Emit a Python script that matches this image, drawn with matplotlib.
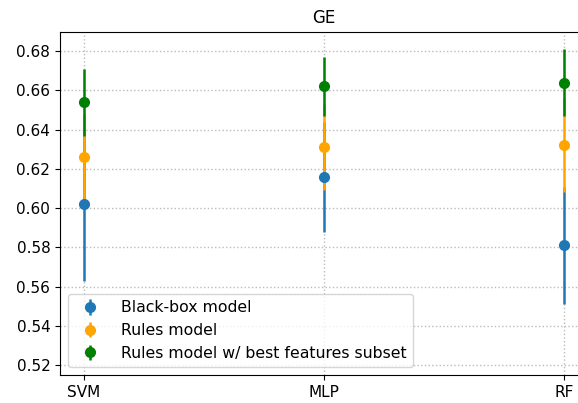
import matplotlib
matplotlib.use("Agg")
import matplotlib.pyplot as plt
import numpy as np

categories = ["SVM", "MLP", "RF"]
blackbox_mean = [0.602, 0.616, 0.581]
blackbox_err = [0.039, 0.028, 0.030]
rules_mean = [0.626, 0.631, 0.632]
rules_err = [0.022, 0.022, 0.024]
best_mean = [0.654, 0.662, 0.664]
best_err = [0.017, 0.015, 0.017]

fig = plt.figure(figsize=(5.78, 4.03), dpi=100)
ax = fig.add_axes([60/578, 28/403, 528/578, 343.5/403])

x = np.arange(len(categories))
ax.errorbar(x, blackbox_mean, yerr=blackbox_err, fmt="o", color="#1f77b4",
            markersize=7, elinewidth=1.8, label="Black-box model")
ax.errorbar(x, rules_mean, yerr=rules_err, fmt="o", color="orange",
            markersize=7, elinewidth=1.8, label="Rules model")
ax.errorbar(x, best_mean, yerr=best_err, fmt="o", color="green",
            markersize=7, elinewidth=1.8, label="Rules model w/ best features subset")

ax.set_xticks(x)
ax.set_xticklabels(categories, fontsize=11)
ax.set_xlim(-0.1, 2.1)
ax.set_ylim(0.515, 0.69)
ax.set_yticks(np.arange(0.52, 0.681, 0.02))
ax.set_yticklabels([f"{v:.2f}" for v in np.arange(0.52, 0.681, 0.02)], fontsize=11)
ax.grid(True, linestyle=":", color="#bbbbbb", linewidth=1)
ax.set_axisbelow(True)
ax.set_title("GE", fontsize=12)
ax.legend(loc="lower left", fontsize=11.3, handletextpad=1.0)

fig.savefig("out.png", dpi=100)
